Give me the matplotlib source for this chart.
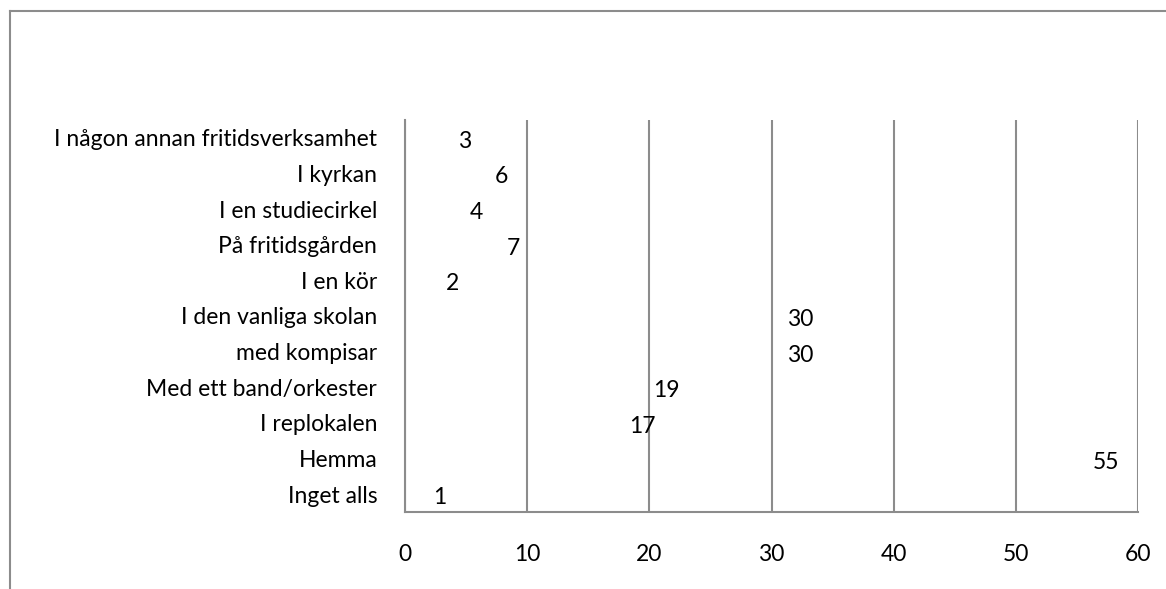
import matplotlib.pyplot as plt
from matplotlib.lines import Line2D

categories = [
    'Inget alls',
    'Hemma',
    'I replokalen',
    'Med ett band/orkester',
    'med kompisar',
    'I den vanliga skolan',
    'I en kör',
    'På fritidsgården',
    'I en studiecirkel',
    'I kyrkan',
    'I någon annan fritidsverksamhet',
]
values = [1, 55, 17, 19, 30, 30, 2, 7, 4, 6, 3]
xticks = [0, 10, 20, 30, 40, 50, 60]

plt.rcParams['font.family'] = ['Lato', 'DejaVu Sans']
plt.rcParams['font.size'] = 16.5

fig = plt.figure(figsize=(11.66, 5.89), dpi=100)
ax = fig.add_axes([405 / 1166, 77 / 589, 733 / 1166, 392 / 589])

grey = '#8c8c8c'
ypos = range(len(categories))
ax.barh(ypos, values, height=0.6, color='none')
# data labels just outside the (invisible) bar ends
for y, v in zip(ypos, values):
    ax.annotate(str(v), (v, y), xytext=(11.5, -2.5), textcoords='offset points',
                ha='left', va='center')

ax.set_xlim(0, 60)
ax.set_ylim(-0.5, len(categories) - 0.5)
ax.set_xticks(xticks)
ax.set_yticks(list(ypos))
ax.set_yticklabels(categories)
ax.tick_params(axis='x', length=0, pad=23)
ax.tick_params(axis='y', length=0, pad=20)
ax.xaxis.grid(True, color=grey, linewidth=1.5)
ax.set_axisbelow(True)
for side in ['top', 'right']:
    ax.spines[side].set_visible(False)
for side in ['left', 'bottom']:
    ax.spines[side].set_color(grey)
    ax.spines[side].set_linewidth(1.5)

# outer chart frame (top and left edges visible)
fig.add_artist(Line2D([10 / 1166, 1], [1 - 11 / 589, 1 - 11 / 589],
                      transform=fig.transFigure, color=grey, linewidth=1.5))
fig.add_artist(Line2D([10 / 1166, 10 / 1166], [0, 1 - 11 / 589],
                      transform=fig.transFigure, color=grey, linewidth=1.5))

fig.savefig('out.png', dpi=100)
